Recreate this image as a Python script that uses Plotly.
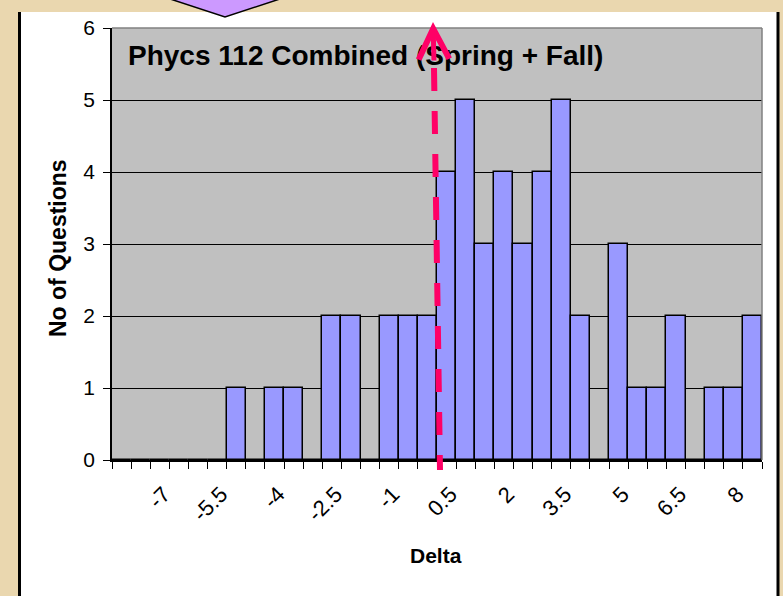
import plotly.graph_objects as go

# histogram bins (Delta) and counts
delta_bins = [-8, -7.5, -7, -6.5, -6, -5.5, -5, -4.5, -4, -3.5, -3, -2.5,
              -2, -1.5, -1, -0.5, 0, 0.5, 1, 1.5, 2, 2.5, 3, 3.5,
              4, 4.5, 5, 5.5, 6, 6.5, 7, 7.5, 8, 8.5]
n_questions = [0, 0, 0, 0, 0, 0, 1, 0, 1, 1, 0, 2,
               2, 0, 2, 2, 2, 4, 5, 3, 4, 3, 4, 5,
               2, 0, 3, 1, 1, 2, 0, 1, 1, 2]
tick_labels = [-7, -5.5, -4, -2.5, -1, 0.5, 2, 3.5, 5, 6.5, 8]

W, H = 783, 596
L, R, T, B = 112, 21, 28, 136
PW, PH = W - L - R, H - T - B
FONT = "Liberation Sans"


def px(x):
    '''pixel column -> paper x'''
    return (x - L) / PW


def py(y):
    '''pixel row -> paper y'''
    return (H - B - y) / PH


fig = go.Figure()
fig.add_trace(go.Bar(x=delta_bins, y=n_questions, width=0.5,
                     marker=dict(color="#9999FF", line=dict(color="black", width=1.5)),
                     showlegend=False))

shapes = [
    # white chart area
    dict(type="rect", xref="paper", yref="paper", layer="below",
         x0=px(20), x1=px(778), y0=py(H + 10), y1=py(12),
         fillcolor="white", line=dict(width=0)),
    # grey plot area (plot_bgcolor sits under the white box)
    dict(type="rect", xref="paper", yref="paper", layer="below",
         x0=0, x1=1, y0=0, y1=1, fillcolor="#C0C0C0", line=dict(width=0)),
    dict(type="line", xref="paper", yref="paper", x0=px(19.5), x1=px(19.5),
         y0=py(12), y1=py(H + 10), line=dict(color="black", width=3)),
    dict(type="line", xref="paper", yref="paper", x0=px(778), x1=px(778),
         y0=py(12), y1=py(H + 10), line=dict(color="black", width=3)),
    # purple pointer at top
    dict(type="path", xref="paper", yref="paper",
         path="M %f,%f L %f,%f L %f,%f Z" % (px(158), py(-5), px(225), py(17), px(292), py(-5)),
         fillcolor="#CC99FF", line=dict(color="black", width=1.5)),
    # grey frame on top/right of plot
    dict(type="line", xref="paper", yref="paper", x0=0, x1=1, y0=1, y1=1,
         line=dict(color="#808080", width=1.5)),
    dict(type="line", xref="paper", yref="paper", x0=1, x1=1, y0=0, y1=1,
         line=dict(color="#808080", width=1.5)),
    # dashed pink arrow
    dict(type="line", xref="paper", yref="paper", x0=px(434), x1=px(440),
         y0=py(68), y1=py(470), line=dict(color="#FF0066", width=6, dash="23px,20px")),
]

annotations = [
    dict(text="<b>Phycs 112 Combined (Spring + Fall)</b>", xref="paper", yref="paper",
         x=px(126), y=py(56), xanchor="left", yanchor="middle", showarrow=False,
         font=dict(family=FONT, size=28, color="black")),
    dict(text="", xref="paper", yref="paper", x=px(433), y=py(22), ax=1, ay=40,
         showarrow=True, arrowhead=5, arrowwidth=5, arrowsize=1.2, arrowcolor="#FF0066"),
    dict(text="<b>No of Questions</b>", xref="paper", yref="paper",
         x=px(58), y=py(248), xanchor="center", yanchor="middle", textangle=-90,
         showarrow=False, font=dict(family=FONT, size=23, color="black")),
    dict(text="<b>Delta</b>", xref="paper", yref="paper",
         x=px(436), y=py(555), xanchor="center", yanchor="middle", showarrow=False,
         font=dict(family=FONT, size=21, color="black")),
]

fig.update_layout(
    width=W, height=H,
    margin=dict(l=L, r=R, t=T, b=B),
    paper_bgcolor="#EAD7AF",
    plot_bgcolor="#C0C0C0",
    bargap=0,
    shapes=shapes,
    annotations=annotations,
    font=dict(family=FONT, color="black"),
)
fig.update_xaxes(range=[-8.25, 8.75], tickmode="array", tickvals=tick_labels,
                 ticktext=[str(t) for t in tick_labels], tickangle=-45,
                 ticks="", showgrid=False, zeroline=False,
                 showline=True, linecolor="black", linewidth=1.5,
                 tickfont=dict(family=FONT, size=22, color="black"),
                 ticklabelstandoff=11, ticklabelshift=4,
                 minor=dict(tickmode="linear", tick0=-8.25, dtick=0.5, ticks="outside",
                            ticklen=7, tickcolor="black", tickwidth=1, showgrid=False))
fig.update_yaxes(range=[0, 6], dtick=1, ticks="outside", ticklen=7, tickcolor="black",
                 showgrid=True, gridcolor="black", gridwidth=1, zeroline=False,
                 showline=True, linecolor="black", linewidth=1.5,
                 tickfont=dict(family=FONT, size=21, color="black"),
                 ticklabelstandoff=4)

# page body has a default margin; drop it so the figure sits at the window corner
fig.write_html("out.html", config={"displayModeBar": False},
               post_script="document.body.style.margin='0';"
                           "document.body.style.overflow='hidden';")
